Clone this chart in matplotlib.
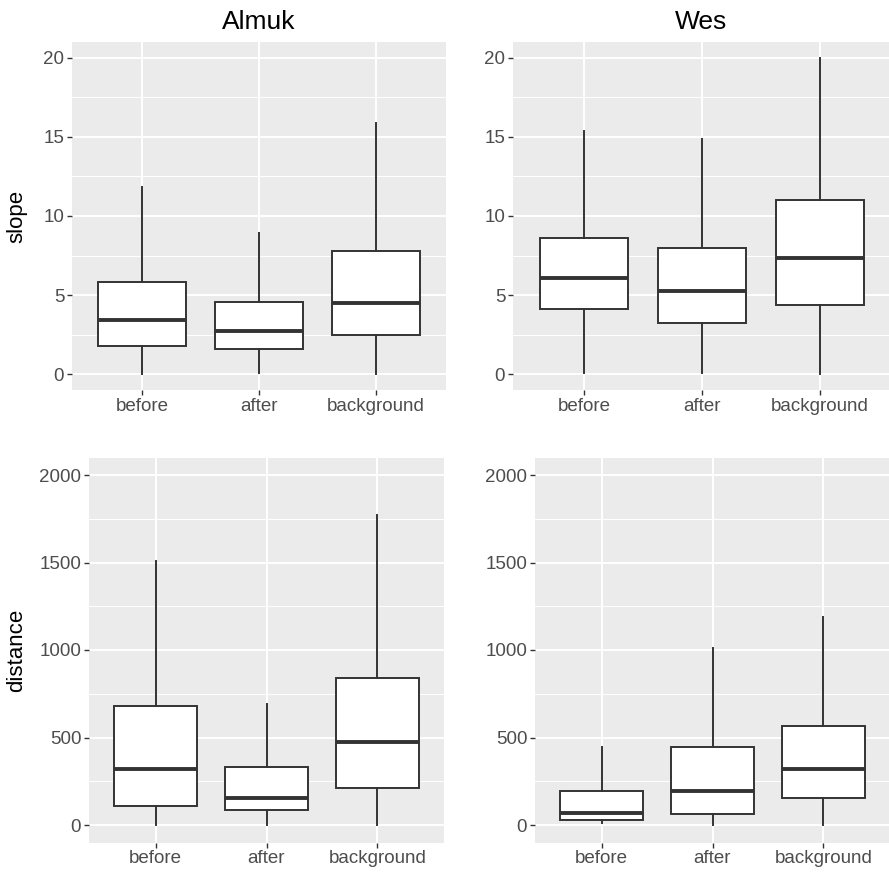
import matplotlib
matplotlib.use("Agg")
import matplotlib.pyplot as plt
from matplotlib.ticker import MultipleLocator

plt.rcParams['font.family'] = ['Liberation Sans', 'DejaVu Sans']

# ----------------------------------------
# Data
# ----------------------------------------
categories = ["before", "after", "background"]
sites = ["Almuk", "Wes"]

# five-number summaries: low whisker, Q1, median, Q3, high whisker
almuk_slope_low = [0.0, 0.1, 0.0]
almuk_slope_q1 = [1.8, 1.6, 2.5]
almuk_slope_med = [3.4, 2.75, 4.5]
almuk_slope_q3 = [5.85, 4.55, 7.8]
almuk_slope_high = [11.85, 8.9, 15.9]

wes_slope_low = [0.1, 0.1, 0.0]
wes_slope_q1 = [4.1, 3.25, 4.4]
wes_slope_med = [6.05, 5.25, 7.35]
wes_slope_q3 = [8.6, 8.0, 11.0]
wes_slope_high = [15.4, 14.85, 20.0]

almuk_dist_low = [0, 0, 0]
almuk_dist_q1 = [110, 88, 212]
almuk_dist_med = [322, 152, 476]
almuk_dist_q3 = [680, 330, 838]
almuk_dist_high = [1510, 690, 1772]

wes_dist_low = [10, 0, 0]
wes_dist_q1 = [30, 62, 152]
wes_dist_med = [70, 196, 322]
wes_dist_q3 = [196, 446, 568]
wes_dist_high = [444, 1010, 1190]

slope_ticks = [0, 5, 10, 15, 20]
dist_ticks = [0, 500, 1000, 1500, 2000]

BG = "#EBEBEB"
INK = "#333333"
TICK_TXT = "#4D4D4D"


def make_stats(low, q1, med, q3, high):
    return [dict(whislo=a, q1=b, med=c, q3=d, whishi=e, fliers=[])
            for a, b, c, d, e in zip(low, q1, med, q3, high)]


def draw_panel(ax, stats, ticks, minor, ylim):
    ax.set_facecolor(BG)
    for s in ax.spines.values():
        s.set_visible(False)
    ax.bxp(stats, positions=[1, 2, 3], widths=0.75, patch_artist=True,
           showfliers=False, showcaps=False,
           boxprops=dict(facecolor="white", edgecolor=INK, linewidth=1.4),
           whiskerprops=dict(color=INK, linewidth=1.4),
           medianprops=dict(color=INK, linewidth=2.8, solid_capstyle="butt"),
           zorder=3)
    ax.set_xlim(0.4, 3.6)
    ax.set_ylim(*ylim)
    ax.set_xticks([1, 2, 3])
    ax.set_xticklabels(categories)
    ax.set_yticks(ticks)
    ax.set_yticklabels([str(t) for t in ticks])
    ax.yaxis.set_minor_locator(MultipleLocator(minor))
    ax.grid(which="major", color="white", linewidth=1.4, zorder=0)
    ax.grid(which="minor", axis="y", color="white", linewidth=0.7, zorder=0)
    ax.set_axisbelow(True)
    ax.tick_params(which="major", length=3.6, width=1.0, color=INK,
                   labelcolor=TICK_TXT, labelsize=13.5, pad=2)
    ax.tick_params(which="minor", length=0)


fig = plt.figure(figsize=(8.89, 8.75), dpi=100)

W, H = 889.0, 875.0


def px_axes(x0, y0, x1, y1):
    return fig.add_axes([x0 / W, 1 - y1 / H, (x1 - x0) / W, (y1 - y0) / H])


ax_tl = px_axes(72, 42, 446, 390)
ax_tr = px_axes(513, 42, 891, 390)
ax_bl = px_axes(89, 457.5, 444, 842.5)
ax_br = px_axes(535, 457.5, 890, 842.5)

draw_panel(ax_tl, make_stats(almuk_slope_low, almuk_slope_q1, almuk_slope_med,
                             almuk_slope_q3, almuk_slope_high),
           slope_ticks, 2.5, (-1, 21))
draw_panel(ax_tr, make_stats(wes_slope_low, wes_slope_q1, wes_slope_med,
                             wes_slope_q3, wes_slope_high),
           slope_ticks, 2.5, (-1, 21))
draw_panel(ax_bl, make_stats(almuk_dist_low, almuk_dist_q1, almuk_dist_med,
                             almuk_dist_q3, almuk_dist_high),
           dist_ticks, 250, (-100, 2100))
draw_panel(ax_br, make_stats(wes_dist_low, wes_dist_q1, wes_dist_med,
                             wes_dist_q3, wes_dist_high),
           dist_ticks, 250, (-100, 2100))

# titles and row labels
fig.text(259 / W, 1 - 22 / H, sites[0], ha="center", va="center",
         fontsize=19, color="black")
fig.text(701 / W, 1 - 22 / H, sites[1], ha="center", va="center",
         fontsize=19, color="black")
fig.text(17 / W, 1 - 216 / H, "slope", ha="center", va="center",
         rotation=90, fontsize=16, color="black")
fig.text(17 / W, 1 - 650 / H, "distance", ha="center", va="center",
         rotation=90, fontsize=16, color="black")

fig.savefig("out.png", dpi=100, facecolor="white")
